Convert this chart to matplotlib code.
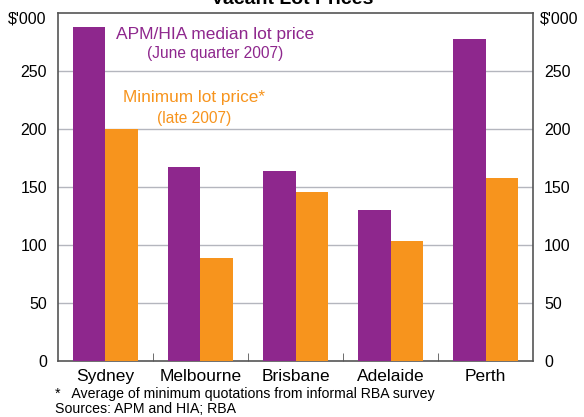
import numpy as np
import matplotlib.pyplot as plt

plt.rcParams['font.family'] = ['Liberation Sans', 'DejaVu Sans']

# data
cities = ["Sydney", "Melbourne", "Brisbane", "Adelaide", "Perth"]
median_price = [288, 167, 164, 130, 277]
minimum_price = [200, 89, 146, 103, 158]
yticks = [0, 50, 100, 150, 200, 250]

purple = "#8E278D"
orange = "#F7941D"
spine_col = "#555555"

fig = plt.figure(figsize=(5.84, 4.17), dpi=100)
ax = fig.add_axes([0.0993, 0.1343, 0.8134, 0.8352])

x = np.arange(len(cities))
w = 0.337
ax.bar(x - w / 2, median_price, width=w, color=purple, zorder=3)
ax.bar(x + w / 2, minimum_price, width=w, color=orange, zorder=3)

ax.set_xlim(-0.5, len(cities) - 0.5)
ax.set_ylim(0, 300)

# gridlines
for y in yticks[1:]:
    ax.axhline(y, color="#B4B6BE", lw=1, zorder=1)

ax.set_yticks(yticks)
ax.tick_params(axis='y', length=0, labelsize=11.5, pad=8, labelright=True)
ax.set_xticks(x)
ax.set_xticklabels(cities)
ax.tick_params(axis='x', length=0, labelsize=12.5, pad=6)
ax.set_xticks(x[:-1] + 0.5, minor=True)
ax.tick_params(axis='x', which='minor', direction='in', length=6, color=spine_col)

for s in ax.spines.values():
    s.set_color(spine_col)
    s.set_linewidth(1.2)

# units
fig.text(0.079, 0.954, "$'000", ha='right', va='center', fontsize=11.5)
fig.text(0.924, 0.954, "$'000", ha='left', va='center', fontsize=11.5)

# title (cut off at top, as in the original)
fig.text(0.5, 0.99, "Vacant Lot Prices", ha='center', va='baseline',
         fontsize=14, fontweight='bold')

# series labels
ax.text(1.15, 281.5, "APM/HIA median lot price", color=purple, ha='center',
        va='center', fontsize=12.5, zorder=5)
ax.text(1.15, 265, "(June quarter 2007)", color=purple, ha='center',
        va='center', fontsize=11.2, zorder=5)
ax.text(0.937, 227, "Minimum lot price*", color=orange, ha='center',
        va='center', fontsize=12.4, zorder=5)
ax.text(0.93, 209, "(late 2007)", color=orange, ha='center',
        va='center', fontsize=11.2, zorder=5)

# footnotes
fig.text(0.094, 0.055, "*   Average of minimum quotations from informal RBA survey",
         fontsize=10.2, va='center')
fig.text(0.094, 0.018, "Sources: APM and HIA; RBA", fontsize=10.2, va='center')

fig.savefig("out.png", dpi=100)
